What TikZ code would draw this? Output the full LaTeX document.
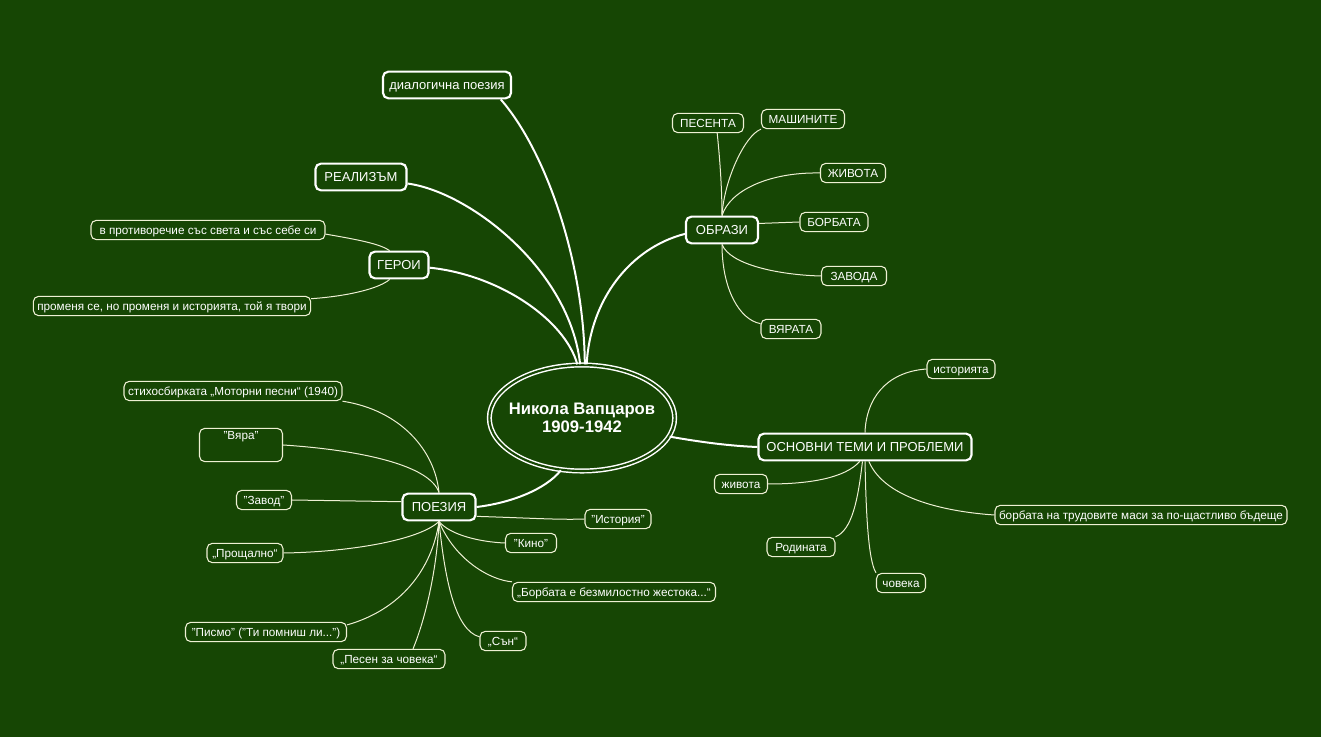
\documentclass[tikz,border=0pt]{standalone}
\usepackage{fontspec}
\setmainfont{Liberation Sans}
\usetikzlibrary{shapes.geometric}
\definecolor{bgreen}{RGB}{22,70,4}
\definecolor{cream}{RGB}{238,240,212}

\begin{document}
\begin{tikzpicture}[x=0.75pt,y=-0.75pt,
  every node/.style={text=white},
  hub/.style={ellipse, draw=white, double=bgreen, double distance=1.6pt, line width=1.1pt,
    minimum width=139pt, minimum height=79.5pt, inner xsep=-6pt, inner ysep=0pt, align=center,
    font=\bfseries\fontsize{12.5}{14}\selectfont},
  topic/.style={draw=white, line width=1.6pt, rounded corners=4pt, fill=bgreen,
    minimum height=20pt, inner xsep=4pt, text height=8.2pt, text depth=1pt,
    font=\fontsize{9.75}{11}\selectfont},
  leaf/.style={draw=cream, line width=0.8pt, rounded corners=4pt, fill=bgreen,
    minimum height=14.5pt, inner xsep=3pt, inner ysep=1pt, text height=7.5pt, text depth=1pt,
    font=\fontsize{8.8}{10}\selectfont},
  bw/.style={minimum width={#1*0.75pt}},
  trunk/.style={draw=white, line width=1.5pt},
  twig/.style={draw=cream, line width=0.75pt},
]
% canvas
\fill[bgreen] (0,0) rectangle (1321,737);
\useasboundingbox (0,0) rectangle (1321,737);

% central node
\node[hub] (hub) at (582,418) {Никола Вапцаров\\1909-1942};

% upper-left branches
\node[topic, bw=128] (dial) at (447,85) {диалогична поезия};
\node[topic, bw=91] (real) at (361,177) {РЕАЛИЗЪМ};
\node[topic, bw=59] (geroi) at (399,265) {ГЕРОИ};
\node[leaf, bw=234] (protiv) at (208,230) {в противоречие със света и със себе си};
\node[leaf, bw=275] (promenq) at (172,306) {променя се, но променя и историята, той я твори};

% images
\node[topic, bw=72] (obr) at (722,230) {ОБРАЗИ};
\node[leaf, bw=71] (pesenta) at (708,123) {ПЕСЕНТА};
\node[leaf, bw=83] (mash) at (803,119) {МАШИНИТЕ};
\node[leaf, bw=65] (zhivota) at (853,173) {ЖИВОТА};
\node[leaf, bw=68] (borbata) at (834,222) {БОРБАТА};
\node[leaf, bw=65] (zavoda) at (854,276) {ЗАВОДА};
\node[leaf, bw=60] (vqrata) at (791,329) {ВЯРАТА};

% themes
\node[topic, bw=213] (osn) at (865,447) {ОСНОВНИ ТЕМИ И ПРОБЛЕМИ};
\node[leaf, bw=68] (ist) at (961,369) {историята};
\node[leaf, bw=53] (zhiv) at (741,484) {живота};
\node[leaf, bw=292] (borbmasi) at (1141,515) {борбата на трудовите маси за по-щастливо бъдеще};
\node[leaf, bw=68] (rod) at (801,547) {Родината};
\node[leaf, bw=49] (chov) at (901,583) {човека};

% poetry
\node[topic, bw=73] (poe) at (439,507) {ПОЕЗИЯ};
\node[leaf, bw=216] (stih) at (233,391) {стихосбирката „Моторни песни“ (1940)};
\node[leaf, bw=83, text height=7pt, text depth=15pt, inner ysep=1.5pt] (vqra) at (241,445) {"Вяра"};
\node[leaf, bw=55] (zavod) at (264,500) {"Завод"};
\node[leaf, bw=76] (prosht) at (245,553) {„Прощално“};
\node[leaf, bw=161] (pismo) at (266,632) {"Писмо" ("Ти помниш ли...")};
\node[leaf, bw=112] (pesen) at (389,659) {„Песен за човека“};
\node[leaf, bw=66] (istoriq) at (618,519) {"История"};
\node[leaf, bw=51] (kino) at (531,543) {"Кино"};
\node[leaf, bw=203] (borbzh) at (614,592) {„Борбата е безмилостно жестока...“};
\node[leaf, bw=46] (san) at (503,641) {„Сън“};

% main branches
\draw[trunk] (dial.-15) .. controls (545,150) and (584,260) .. (hub.87);
\draw[trunk] (real.-8) .. controls (470,192) and (570,270) .. (hub.92);
\draw[trunk] (geroi.-5) .. controls (500,275) and (565,320) .. (hub.95);
\draw[trunk] (obr.-174) .. controls (630,248) and (590,300) .. (hub.85);
\draw[trunk] (hub.-12) .. controls (700,442) and (730,446) .. (osn.west);
\draw[trunk] (poe.east) .. controls (510,503) and (545,490) .. (hub.-112);

% heroes
\draw[twig] (protiv.-2) .. controls (360,240) and (380,244) .. (geroi.123);
\draw[twig] (promenq.3) .. controls (350,296) and (380,288) .. (geroi.-123);

% images
\draw[twig] (pesenta.-48) .. controls (720,160) and (722,190) .. (obr.north);
\draw[twig] (mash.south west) .. controls (745,135) and (724,180) .. (obr.north);
\draw[twig] (zhivota.west) .. controls (770,172) and (730,190) .. (obr.north);
\draw[twig] (obr.10) -- (borbata.west);
\draw[twig] (obr.south) .. controls (730,265) and (780,275) .. (zavoda.west);
\draw[twig] (obr.south) .. controls (722,290) and (740,320) .. (vqrata.170);

% themes
\draw[twig] (ist.west) .. controls (885,372) and (866,400) .. (osn.north);
\draw[twig] (osn.-110) .. controls (845,478) and (810,484) .. (zhiv.east);
\draw[twig] (osn.-100) .. controls (858,500) and (852,530) .. (rod.north east);
\draw[twig] (osn.-90) .. controls (866,510) and (868,560) .. (chov.north west);
\draw[twig] (osn.-75) .. controls (885,500) and (950,512) .. (borbmasi.west);

% poetry
\draw[twig] (stih.south east) .. controls (400,410) and (435,450) .. (poe.north);
\draw[twig] (vqra.east) .. controls (360,450) and (430,465) .. (poe.north);
\draw[twig] (zavod.east) -- (poe.172);
\draw[twig] (prosht.east) .. controls (350,552) and (420,540) .. (poe.south);
\draw[twig] (pismo.5) .. controls (400,610) and (432,570) .. (poe.south);
\draw[twig] (pesen.23) .. controls (425,620) and (437,570) .. (poe.south);
\draw[twig] (poe.-14) .. controls (530,518) and (560,520) .. (istoriq.west);
\draw[twig] (poe.south) .. controls (450,535) and (480,542) .. (kino.west);
\draw[twig] (poe.south) .. controls (455,560) and (490,580) .. (borbzh.north west);
\draw[twig] (poe.south) .. controls (445,580) and (455,630) .. (san.170);
\end{tikzpicture}
\end{document}
